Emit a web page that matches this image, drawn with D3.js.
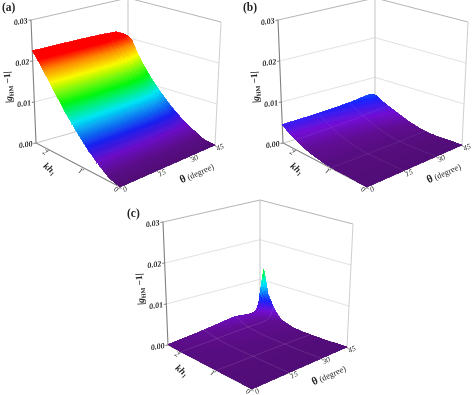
<!DOCTYPE html>
<html>
<head>
<meta charset="utf-8">
<script src="https://cdn.jsdelivr.net/npm/d3@7"></script>
<style>
  html, body { margin: 0; padding: 0; background: #fff; }
  svg { display: block; }
  text { font-family: "Liberation Serif", serif; fill: #222; opacity: 0.99; }
</style>
</head>
<body>
<svg id="chart" width="474" height="395"></svg>
<script>
// values
const kdGrid = [0, 0.3, 0.6, 0.9, 1.2, 1.5, 1.8, 2.0, 2.15, 2.26, 2.36];
const thetaGrid = [0, 10, 20, 30, 38, 42, 44, 45];

const surfaceA = [
  [0, 0, 0, 0, 0, 0, 0, 0],
  [0.0007, 0.0007, 0.0007, 0.0007, 0.0006, 0.0006, 0.0005, 0.0005],
  [0.0026, 0.0026, 0.0026, 0.0025, 0.0024, 0.0022, 0.0021, 0.002],
  [0.0049, 0.0049, 0.0048, 0.0047, 0.0044, 0.0041, 0.0038, 0.0037],
  [0.0078, 0.0078, 0.0077, 0.0075, 0.0071, 0.0066, 0.0062, 0.006],
  [0.0111, 0.0111, 0.011, 0.0108, 0.0102, 0.0095, 0.009, 0.0088],
  [0.015, 0.015, 0.0149, 0.0146, 0.0139, 0.013, 0.0124, 0.0122],
  [0.0178, 0.0178, 0.0177, 0.0174, 0.0166, 0.0158, 0.0152, 0.015],
  [0.0198, 0.0198, 0.0197, 0.0195, 0.0188, 0.0181, 0.0177, 0.0175],
  [0.0214, 0.0214, 0.0213, 0.0211, 0.0206, 0.0201, 0.0198, 0.0197],
  [0.0225, 0.0225, 0.0225, 0.0224, 0.0222, 0.0214, 0.0208, 0.0205],
];
const surfaceB = [
  [0, 0, 0, 0, 0, 0, 0, 0],
  [0, 0, 0, 0, 0.0001, 0.0001, 0.0001, 0.0001],
  [0.0001, 0.0001, 0.0001, 0.0001, 0.0001, 0.0001, 0.0001, 0.0001],
  [0.0001, 0.0001, 0.0002, 0.0002, 0.0003, 0.0003, 0.0003, 0.0003],
  [0.0003, 0.0003, 0.0004, 0.0005, 0.0007, 0.0008, 0.0009, 0.0009],
  [0.0008, 0.0009, 0.001, 0.0012, 0.0015, 0.0017, 0.0018, 0.0018],
  [0.0015, 0.0017, 0.002, 0.0023, 0.0027, 0.0029, 0.003, 0.003],
  [0.0024, 0.0026, 0.0029, 0.0033, 0.0037, 0.0039, 0.0039, 0.0038],
  [0.0031, 0.0033, 0.0036, 0.004, 0.0044, 0.0046, 0.0046, 0.0045],
  [0.0038, 0.004, 0.0043, 0.0047, 0.0052, 0.0054, 0.0053, 0.0052],
  [0.0045, 0.0047, 0.005, 0.0054, 0.0059, 0.0061, 0.0059, 0.0056],
];
const surfaceC = [
  [0, 0, 0, 0, 0, 0, 0, 0],
  [0, 0, 0, 0, 0, 0, 0, 0],
  [0, 0, 0, 0, 0, 0, 0, 0],
  [0, 0, 0.0001, 0.0001, 0.0001, 0.0001, 0.0001, 0.0001],
  [0, 0.0001, 0.0001, 0.0002, 0.0002, 0.0002, 0.0002, 0.0002],
  [0, 0.0001, 0.0002, 0.0003, 0.0004, 0.0004, 0.0005, 0.0006],
  [0, 0.0002, 0.0004, 0.0006, 0.0007, 0.0008, 0.0011, 0.0016],
  [0, 0.0003, 0.0007, 0.001, 0.0011, 0.0014, 0.0028, 0.004],
  [0, 0.0005, 0.0011, 0.0015, 0.0016, 0.0024, 0.005, 0.007],
  [0.0001, 0.0007, 0.0014, 0.002, 0.0021, 0.0035, 0.008, 0.0128],
  [0.0001, 0.0008, 0.0016, 0.0024, 0.002, 0.002, 0.0035, 0.0065],
];

const heightTicks = [0, 0.01, 0.02, 0.03];
const kdTicks = [0, 1, 2];
const thetaTicks = [0, 15, 30, 45];
const panelNames = ["(a)", "(b)", "(c)"];

const svg = d3.select("#chart");

const kdScale = d3.scaleLinear().domain([0, 2.36]).range([0, 1]);
// the theta side is foreshortened towards the far corner
const thetaScale = d3.scaleLinear().domain([0, 15, 30, 45]).range([0, 0.39, 0.73, 1]);
const heightScale = d3.scaleLinear().domain([0, 0.03]).range([0, 1]);
const formatTick = d3.format(".2f");

// rainbow used on the surfaces, by height
const colorScale = d3
  .scaleLinear()
  .domain([0, 0.0012, 0.003, 0.0052, 0.0092, 0.0125, 0.0165, 0.0188, 0.0208])
  .range(["#5a0a84", "#640c98", "#7410d8", "#1a22ff", "#00f0ff", "#00ff10", "#ffff00", "#ff8c00", "#ff0000"])
  .clamp(true);

// the wall corners of panel (a); the other panels are this box shifted
const box = {
  floor: { front: [120, 187], left: [36, 143], right: [215, 145], back: [128, 117] },
  top: { front: [120, 57], left: [31, 20], right: [221, 22], back: [128, -2] },
};

function mix(a, b, t) {
  return a + (b - a) * t;
}

function bilinear(c, u, v) {
  const near = [mix(c.front[0], c.left[0], u), mix(c.front[1], c.left[1], u)];
  const far = [mix(c.right[0], c.back[0], u), mix(c.right[1], c.back[1], u)];
  return [mix(near[0], far[0], v), mix(near[1], far[1], v)];
}

// kd, theta, height -> pixel on the skewed box
function project(kd, theta, value) {
  const u = kdScale(kd);
  const v = thetaScale(theta);
  const low = bilinear(box.floor, u, v);
  const high = bilinear(box.top, u, v);
  const h = heightScale(value);
  return [mix(low[0], high[0], h), mix(low[1], high[1], h)];
}

function valueAt(table, kd, theta) {
  const i = Math.min(d3.bisectRight(kdGrid, kd) - 1, kdGrid.length - 2);
  const j = Math.min(d3.bisectRight(thetaGrid, theta) - 1, thetaGrid.length - 2);
  const s = (kd - kdGrid[i]) / (kdGrid[i + 1] - kdGrid[i]);
  const t = (theta - thetaGrid[j]) / (thetaGrid[j + 1] - thetaGrid[j]);
  return mix(
    mix(table[i][j], table[i][j + 1], t),
    mix(table[i + 1][j], table[i + 1][j + 1], t),
    s
  );
}

const line = d3.line();

function drawWalls(g) {
  heightTicks.forEach(function (v) {
    const isFloor = v === 0;
    g.append("path")
      .attr("d", line([project(2.36, 0, v), project(2.36, 45, v), project(0, 45, v)]))
      .attr("fill", "none")
      .attr("stroke", v === 0.03 ? "#b4b4b4" : isFloor ? "#c8c8c8" : "#e2e2e2")
      .attr("stroke-width", 1);
  });
  g.append("path")
    .attr("d", line([project(2.36, 45, 0), project(2.36, 45, 0.03)]))
    .attr("stroke", "#c4c4c4")
    .attr("fill", "none");
  g.append("path")
    .attr("d", line([project(0, 45, 0), project(0, 45, 0.03)]))
    .attr("stroke", "#cfcfcf")
    .attr("fill", "none");
}

function drawSurface(g, table, gridOpacity) {
  const kdSteps = 14;
  const thetaSteps = 3;
  const mesh = g.append("g").attr("filter", "url(#soft)").attr("shape-rendering", "crispEdges");
  for (let i = kdGrid.length - 2; i >= 0; i--) {
    for (let a = kdSteps - 1; a >= 0; a--) {
      const kd0 = mix(kdGrid[i], kdGrid[i + 1], a / kdSteps);
      const kd1 = mix(kdGrid[i], kdGrid[i + 1], (a + 1) / kdSteps);
      for (let j = thetaGrid.length - 2; j >= 0; j--) {
        for (let b = thetaSteps - 1; b >= 0; b--) {
          const t0 = mix(thetaGrid[j], thetaGrid[j + 1], b / thetaSteps);
          const t1 = mix(thetaGrid[j], thetaGrid[j + 1], (b + 1) / thetaSteps);
          const pts = [
            project(kd0, t0, valueAt(table, kd0, t0)),
            project(kd1, t0, valueAt(table, kd1, t0)),
            project(kd1, t1, valueAt(table, kd1, t1)),
            project(kd0, t1, valueAt(table, kd0, t1)),
          ];
          const mid = valueAt(table, (kd0 + kd1) / 2, (t0 + t1) / 2);
          // front of the sheet is a little darker
          const shade = 0.3 * (1 - kdScale((kd0 + kd1) / 2));
          const fill = d3.color(colorScale(mid)).darker(shade).formatHex();
          mesh.append("path")
            .attr("d", line(pts) + "Z")
            .attr("fill", fill)
            .attr("stroke", fill)
            .attr("stroke-width", 0.8);
        }
      }
    }
  }

  // faint floor grid showing through the sheet
  const guide = g.append("g")
    .attr("fill", "none")
    .attr("stroke", "#fff")
    .attr("stroke-opacity", gridOpacity)
    .attr("stroke-width", 0.7);
  thetaTicks.slice(1, 3).forEach(function (t) {
    guide.append("path").attr("d", line(d3.range(0, 24).map(function (n) {
      const kd = (2.36 * n) / 23;
      return project(kd, t, valueAt(table, kd, t));
    })));
  });
  kdTicks.slice(1).forEach(function (kd) {
    guide.append("path").attr("d", line(d3.range(0, 31).map(function (n) {
      const t = (45 * n) / 30;
      return project(kd, t, valueAt(table, kd, t));
    })));
  });
}

function drawAxes(g) {
  // vertical axis and kd axis stay dark
  g.append("path")
    .attr("d", line([project(2.36, 0, 0.03), project(2.36, 0, 0), project(0, 0, 0)]))
    .attr("fill", "none")
    .attr("stroke", "#808080")
    .attr("stroke-width", 1.1);
  g.append("path")
    .attr("d", line([project(0, 0, 0), project(0, 45, 0)]))
    .attr("fill", "none")
    .attr("stroke", "#808080")
    .attr("stroke-width", 0.8);

  heightTicks.forEach(function (v) {
    const p = project(2.36, 0, v);
    g.append("path")
      .attr("d", line([[p[0] - 2.5, p[1] + 0.4], p]))
      .attr("stroke", "#808080");
    g.append("text")
      .attr("transform", `translate(${p[0] - 3},${p[1] + 3}) rotate(-9)`)
      .attr("text-anchor", "end")
      .attr("font-size", 8)
      .attr("font-style", "italic")
      .attr("font-weight", "bold")
      .text(formatTick(v));
  });

  kdTicks.forEach(function (k) {
    const p = project(k, 0, 0);
    g.append("path")
      .attr("d", line([p, [p[0] - 1.5, p[1] + 2.2]]))
      .attr("stroke", "#808080");
    g.append("text")
      .attr("transform", `translate(${p[0] - 5},${p[1] + 4.5}) rotate(28)`)
      .attr("text-anchor", "middle")
      .attr("font-size", 7.5)
      .attr("font-style", "italic")
      .text(k);
  });

  thetaTicks.forEach(function (t) {
    const p = project(0, t, 0);
    g.append("path")
      .attr("d", line([p, [p[0] + 1.5, p[1] + 2.2]]))
      .attr("stroke", "#808080");
    g.append("text")
      .attr("transform", `translate(${p[0] + 6},${p[1] + 4.5}) rotate(-24)`)
      .attr("text-anchor", "middle")
      .attr("font-size", 7.5)
      .attr("font-style", "italic")
      .text(t);
  });

  // y title
  const yTitle = g.append("text")
    .attr("transform", "translate(11,87) rotate(-94)")
    .attr("text-anchor", "middle")
    .attr("font-size", 9.5)
    .attr("font-weight", "bold");
  yTitle.append("tspan").text("|");
  yTitle.append("tspan").attr("font-style", "italic").text("g");
  yTitle.append("tspan").attr("font-size", 6).attr("dy", 2).text("HM");
  yTitle.append("tspan").attr("dy", -2).text(" \u22121|");

  const kdTitle = g.append("text")
    .attr("transform", "translate(48,171) rotate(38)")
    .attr("text-anchor", "middle")
    .attr("font-size", 9.5)
    .attr("font-weight", "bold")
    .attr("font-style", "italic");
  kdTitle.append("tspan").text("kh");
  kdTitle.append("tspan").attr("font-size", 6).attr("dy", 2).text("1");

  const thetaTitle = g.append("text")
    .attr("transform", "translate(198,176) rotate(-24)")
    .attr("text-anchor", "middle")
    .attr("font-size", 8.5);
  thetaTitle.append("tspan").attr("font-weight", "bold").attr("font-size", 11).text("\u03b8");
  thetaTitle.append("tspan").text(" (degree)");
}

svg.append("defs")
  .append("filter")
  .attr("id", "soft")
  .append("feGaussianBlur")
  .attr("stdDeviation", 0.5);

const surfaces = [surfaceA, surfaceB, surfaceC];
const shifts = [[0, 0], [247, 0], [132, 202]];
const guideOpacity = [0, 0.1, 0.16];
const nameSpots = [[2, 11], [243, 11], [127, 217]];

surfaces.forEach(function (table, i) {
  const g = svg.append("g").attr("transform", `translate(${shifts[i][0]},${shifts[i][1]})`);
  drawWalls(g);
  drawAxes(g);
  drawSurface(g, table, guideOpacity[i]);
  svg.append("text")
    .attr("x", nameSpots[i][0])
    .attr("y", nameSpots[i][1])
    .attr("font-size", 11.5)
    .attr("font-weight", "bold")
    .text(panelNames[i]);
});
</script>
</body>
</html>
